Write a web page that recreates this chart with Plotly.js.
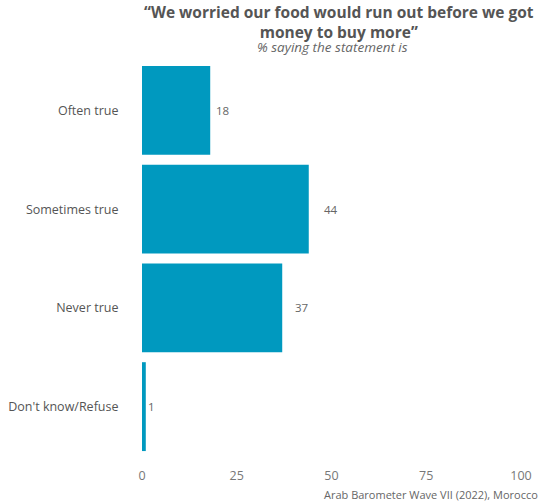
<!DOCTYPE html>
<html><head><meta charset="utf-8">
<script src="https://cdn.plot.ly/plotly-3.0.1.min.js"></script>
<style>body{margin:0;padding:0;background:#fff}#chart{width:543px;height:502px}</style>
</head><body><div id="chart"></div>
<script>
const categories = ["Often true", "Sometimes true", "Never true", "Don't know/Refuse"];
const values = [18, 44, 37, 1];
const xTicks = [0, 25, 50, 75, 100];
const titleText = "“We worried our food would run out before we got<br>money to buy more”";
const subtitleText = "% saying the statement is";
const captionText = "Arab Barometer Wave VII (2022), Morocco";

const FONT = "Open Sans, sans-serif";
const trace = {
  type: "bar", orientation: "h",
  x: values, y: categories,
  marker: {color: "#0099BF"},
  hoverinfo: "none"
};
const annotations = values.map((v, i) => ({
  x: v * 1.1 + 1.4, y: categories[i], xref: "x", yref: "y",
  text: String(v), showarrow: false, xanchor: "center",
  font: {family: FONT, size: 11.5, color: "#666"}
}));
annotations.push({
  xref: "paper", yref: "paper", x: 0.52, y: 1, yanchor: "bottom", yshift: 16,
  text: "<b>" + titleText + "</b>", showarrow: false,
  font: {family: FONT, size: 15.5, color: "#555"}
});
annotations.push({
  xref: "paper", yref: "paper", x: 0.503, y: 1, yanchor: "bottom", yshift: 3,
  text: "<i>" + subtitleText + "</i>", showarrow: false,
  font: {family: FONT, size: 13.5, color: "#666"}
});
annotations.push({
  xref: "paper", yref: "paper", x: 1.05, y: 0, xanchor: "right", yanchor: "top", yshift: -29,
  text: captionText, showarrow: false,
  font: {family: FONT, size: 11, color: "#666"}
});

const layout = {
  width: 543, height: 502,
  margin: {l: 142, r: 22, t: 61, b: 46},
  paper_bgcolor: "#fff", plot_bgcolor: "#fff",
  bargap: 0.1,
  showlegend: false,
  xaxis: {range: [0, 100], tickvals: xTicks, showgrid: false, zeroline: false, showline: false,
    ticks: "outside", ticklen: 8, tickcolor: "rgba(0,0,0,0)",
    tickfont: {family: FONT, size: 12.5, color: "#777"}, fixedrange: true},
  yaxis: {autorange: "reversed", showgrid: false, zeroline: false, showline: false,
    ticks: "outside", ticklen: 20, tickcolor: "rgba(0,0,0,0)",
    tickfont: {family: FONT, size: 12.5, color: "#555"}, fixedrange: true},
  annotations: annotations
};
Plotly.newPlot("chart", [trace], layout, {displayModeBar: false, staticPlot: true});
</script></body></html>
